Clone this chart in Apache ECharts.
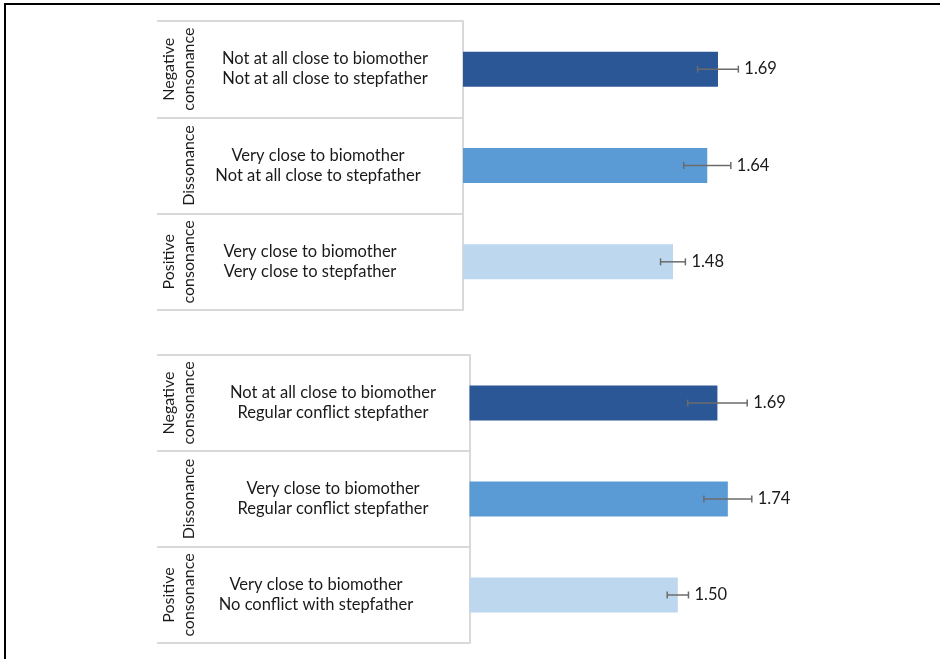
<!DOCTYPE html>
<html>
<head>
<meta charset="utf-8">
<script src="https://cdn.jsdelivr.net/npm/echarts@6/dist/echarts.min.js"></script>
<style>
  html, body { margin: 0; padding: 0; background: #fff; }
  #chart { position: absolute; left: 0; top: 0; width: 940px; height: 659px; }
  #frame { position: absolute; left: 4px; top: 3px; right: 0; bottom: 0;
           border-top: 2px solid #000; border-left: 2px solid #000; pointer-events: none; }
</style>
</head>
<body>
<div id="chart"></div>
<div id="frame"></div>
<script>
// Relationship groups (row headers, read bottom-to-top)
const groupNames = ['Negative\nconsonance', 'Dissonance', 'Positive\nconsonance'];

// Panel 1: closeness to biomother and stepfather
const closenessRows = [
  'Not at all close to biomother\nNot at all close to stepfather',
  'Very close to biomother\nNot at all close to stepfather',
  'Very close to biomother\nVery close to stepfather'
];
const closenessMeans = [1.69, 1.64, 1.48];
const closenessErrors = [0.095, 0.11, 0.058];

// Panel 2: closeness to biomother and conflict with stepfather
const conflictRows = [
  'Not at all close to biomother\nRegular conflict stepfather',
  'Very close to biomother\nRegular conflict stepfather',
  'Very close to biomother\nNo conflict with stepfather'
];
const conflictMeans = [1.69, 1.74, 1.50];
const conflictErrors = [0.143, 0.115, 0.051];

// Styling
const barColors = ['#2b5797', '#5b9bd5', '#bdd7ee'];
const FONT = 'Lato';
const FS = 16.5;
const TEXT = '#1a1a1a';
const RULE = '#d9d9d9';
const ERR = '#6b6b6b';

const panels = [
  { rows: closenessRows, means: closenessMeans, errors: closenessErrors,
    grid: { left: 463, top: 21, width: 321.4, height: 289 },
    descMargin: 145, descShift: [7, 0, -8], groupMargin: 264, tickLen: 306 },
  { rows: conflictRows, means: conflictMeans, errors: conflictErrors,
    grid: { left: 469.5, top: 355, width: 312.5, height: 288 },
    descMargin: 144.5, descShift: [8, 8, -9], groupMargin: 270.5, tickLen: 312.5 }
];

const grids = [], xAxes = [], yAxes = [], series = [];

panels.forEach((p, pi) => {
  grids.push(Object.assign({ containLabel: false }, p.grid));

  xAxes.push({ type: 'value', gridIndex: pi, min: 0.5, max: 2, show: false });

  // rich styles shifting each row's text block horizontally
  const rich = {};
  p.descShift.forEach((d, i) => {
    rich['s' + i] = {
      fontFamily: FONT, fontSize: FS, color: TEXT, lineHeight: 20,
      padding: d >= 0 ? [0, 0, 0, 2 * d] : [0, -2 * d, 0, 0]
    };
  });

  // description axis: carries the table rules and row text
  yAxes.push({
    type: 'category', gridIndex: pi, inverse: true, data: p.rows,
    position: 'left',
    axisLine: { show: true, lineStyle: { color: RULE, width: 2 } },
    axisTick: { show: true, length: p.tickLen, lineStyle: { color: RULE, width: 2 } },
    splitLine: { show: false },
    axisLabel: {
      interval: 0, hideOverlap: false,
      margin: p.descMargin, align: 'center',
      fontFamily: FONT, fontSize: FS, color: TEXT, lineHeight: 20,
      formatter: (value, index) => value.split('\n').map(l => '{s' + index + '|' + l + '}').join('\n'),
      rich: rich
    }
  });

  // group axis: rotated row headers
  yAxes.push({
    type: 'category', gridIndex: pi, inverse: true, data: groupNames,
    position: 'left',
    axisLine: { show: false }, axisTick: { show: false }, splitLine: { show: false },
    axisLabel: {
      interval: 0, hideOverlap: false,
      rotate: 90, margin: p.groupMargin,
      fontFamily: FONT, fontSize: 16, color: TEXT, lineHeight: 20
    }
  });

  series.push({
    type: 'bar', xAxisIndex: pi, yAxisIndex: pi * 2, barWidth: 35,
    data: p.means.map((v, i) => ({ value: v, itemStyle: { color: barColors[i] } })),
    silent: true
  });

  series.push({
    type: 'custom', xAxisIndex: pi, yAxisIndex: pi * 2, z: 5, silent: true,
    data: p.means.map((v, i) => [v, i, p.errors[i]]),
    encode: { x: 0, y: 1 },
    renderItem: (params, api) => {
      const v = api.value(0), i = api.value(1), e = api.value(2);
      const lo = api.coord([v - e, i]);
      const hi = api.coord([v + e, i]);
      const y = lo[1], h = 3.5;
      const ls = { stroke: ERR, lineWidth: 1.5 };
      return {
        type: 'group',
        children: [
          { type: 'line', shape: { x1: lo[0], y1: y, x2: hi[0], y2: y }, style: ls },
          { type: 'line', shape: { x1: lo[0], y1: y - h, x2: lo[0], y2: y + h }, style: ls },
          { type: 'line', shape: { x1: hi[0], y1: y - h, x2: hi[0], y2: y + h }, style: ls },
          { type: 'text', x: hi[0] + 6, y: y,
            style: { text: v.toFixed(2), fontFamily: FONT, fontSize: FS, fill: TEXT,
                     align: 'left', verticalAlign: 'middle' } }
        ]
      };
    }
  });
});

const chart = echarts.init(document.getElementById('chart'), null, { renderer: 'canvas' });
chart.setOption({
  backgroundColor: '#fff',
  animation: false,
  grid: grids,
  xAxis: xAxes,
  yAxis: yAxes,
  series: series
});
</script>
</body>
</html>
